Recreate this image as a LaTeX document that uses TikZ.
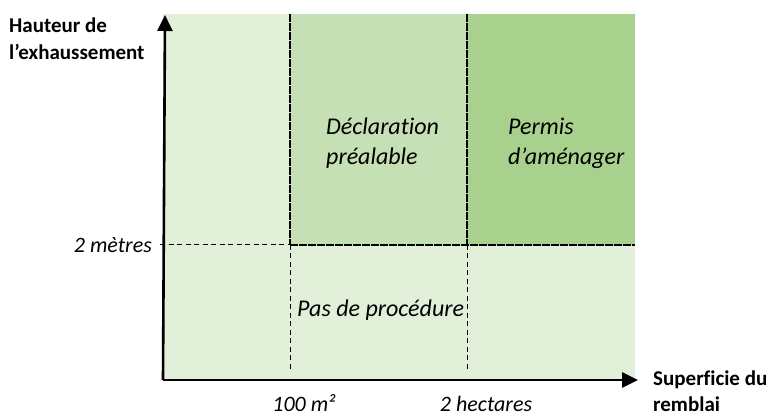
\documentclass[tikz,border=0pt]{standalone}
\usepackage{fontspec}
\setmainfont{Carlito}[Ligatures={NoCommon,NoRare,NoContextual}]
\usetikzlibrary{arrows.meta}
\definecolor{lightg}{HTML}{E2F0D9}
\definecolor{midg}{HTML}{C5E0B4}
\definecolor{darkg}{HTML}{A9D18E}
\tikzset{
  axis/.style={line width=2.6pt,-{Triangle[length=16pt,width=15pt]}},
  sepline/.style={line width=1pt,dash pattern=on 5pt off 3.5pt},
  topline/.style={line width=1.1pt,dash pattern=on 8pt off 1pt},
  axlabel/.style={font=\fontsize{21}{27}\selectfont\bfseries,align=left,inner sep=0pt},
  zonelabel/.style={font=\fontsize{24}{30}\selectfont\itshape,align=left,inner sep=0pt},
  ticklabel/.style={font=\fontsize{22}{26}\selectfont\itshape,inner sep=0pt}
}
\begin{document}
\begin{tikzpicture}[x=1pt,y=-1pt]
\useasboundingbox (0,0) rectangle (771,419);
% regions
\fill[lightg] (163,14) rectangle (635,380);
\fill[midg] (290,14) rectangle (467,245);
\fill[darkg] (467,14) rectangle (635,245);
% coordinates
\coordinate (ytop) at (165,15);
\coordinate (xend) at (638,380);
\coordinate (h0) at (160,245);
\coordinate (h1) at (290,245);
\coordinate (h2) at (635,245);
\coordinate (a0) at (290,14);
\coordinate (a1) at (290,372);
\coordinate (b0) at (467,14);
\coordinate (b1) at (467,245);
\coordinate (b2) at (467,372);
% separators
\draw[sepline] (h0) -- (h1);
\draw[sepline] (h1) -- (a1);
\draw[sepline] (b1) -- (b2);
\draw[topline] (a0) -- (h1);
\draw[topline] (b0) -- (b1);
\draw[topline] (h1) -- (h2);
% axes
\draw[axis] (163,380) -- (ytop);
\draw[axis] (163,380) -- (xend);
% labels (anchor = baseline of last line)
\node[axlabel,anchor=base west] (ylab) at (9,60) {Hauteur de\\l’exhaussement};
\node[axlabel,anchor=base west] (xlab) at (653,412) {Superficie du\\remblai};
\node[ticklabel,anchor=base east] (t2m) at (152,253) {2 mètres};
\node[ticklabel,anchor=base] (t100) at (304,411) {100 m²};
\node[ticklabel,anchor=base] (t2ha) at (486,411) {2 hectares};
\node[zonelabel,anchor=base west] (dp) at (326,165) {Déclaration\\préalable};
\node[zonelabel,anchor=base west] (pa) at (508,165) {Permis\\d’aménager};
\node[zonelabel,anchor=base west] (pp) at (297,317) {Pas de procédure};
\end{tikzpicture}
\end{document}
